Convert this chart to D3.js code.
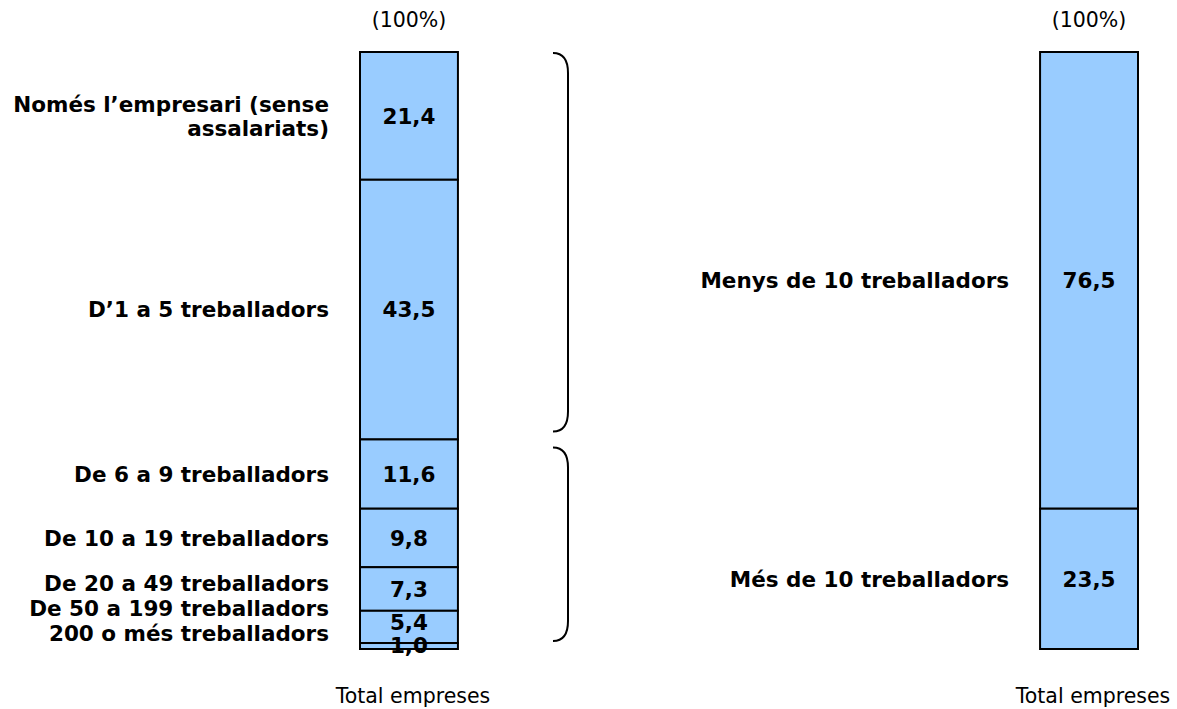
<!DOCTYPE html>
<html>
<head>
<meta charset="utf-8">
<script src="https://cdn.jsdelivr.net/npm/d3@7"></script>
<style>
  body { margin: 0; background: #fff; }
  text { font-family: "DejaVu Sans", Verdana, sans-serif; fill: #000; }
  .lbl, .val { font-weight: bold; font-size: 21.5px; }
  .note { font-size: 20.5px; }
</style>
</head>
<body>
<div id="chart"></div>
<script>
// data
const detailCats = ["Només l\u2019empresari (sense assalariats)", "D\u20191 a 5 treballadors", "De 6 a 9 treballadors",
  "De 10 a 19 treballadors", "De 20 a 49 treballadors", "De 50 a 199 treballadors", "200 o més treballadors"];
const detailVals = [21.4, 43.5, 11.6, 9.8, 7.3, 5.4, 1.0];
const groupCats = ["Menys de 10 treballadors", "Més de 10 treballadors"];
const groupVals = [76.5, 23.5];
const braceGroups = [[0, 1], [2, 6]]; // segment index ranges
const barNames = ["detall", "grup"];
const topLabel = "(100%)";
const bottomLabel = "Total empreses";

const w = 1177, h = 709;

var svg = d3.select("#chart").append("svg")
  .attr("width", w).attr("height", h);

var x = d3.scaleBand().domain(barNames).range([360, 1138]).paddingInner(0.856);
var y = d3.scaleLinear().domain([0, 100]).range([52, 649]);
var fmt = v => d3.format(".1f")(v).replace(".", ",");

function stack(vals) {
  var cum = 0;
  return vals.map(v => { var s = { y0: cum, y1: cum + v, v: v }; cum += v; return s; });
}

// push labels up so they don't overlap, starting from the bottom
function spread(centers, gap, maxY) {
  var out = centers.slice();
  var next = maxY + gap;
  for (var i = out.length - 1; i >= 0; i--) {
    out[i] = Math.min(out[i], next - gap);
    next = out[i];
  }
  return out;
}

function drawBar(name, cats, vals) {
  var segs = stack(vals);
  var bx = x(name), bw = x.bandwidth();
  var g = svg.append("g");

  g.selectAll("rect").data(segs).enter().append("rect")
    .attr("x", bx).attr("y", d => y(d.y0))
    .attr("width", bw).attr("height", d => y(d.y1) - y(d.y0))
    .attr("fill", "#99CCFF").attr("stroke", "#000").attr("stroke-width", 2);

  var centers = segs.map(d => (y(d.y0) + y(d.y1)) / 2);
  var valY = spread(centers, 23, y(100) - 4);
  var lblY = spread(centers, 25, y(100) - 16);

  g.selectAll(".val").data(segs).enter().append("text")
    .attr("class", "val")
    .attr("x", bx + bw / 2).attr("y", (d, i) => valY[i])
    .attr("dy", "0.36em").attr("text-anchor", "middle")
    .text(d => fmt(d.v));

  cats.forEach(function (c, i) {
    var t = g.append("text").attr("class", "lbl")
      .attr("x", bx - 31).attr("text-anchor", "end");
    var lines = c.indexOf("(") > 0 ? [c.slice(0, c.lastIndexOf(" ")), c.slice(c.lastIndexOf(" ") + 1)] : [c];
    var y0 = lblY[i] - (lines.length - 1) * 12;
    lines.forEach(function (l, j) {
      t.append("tspan").attr("x", bx - 31).attr("y", y0 + j * 24).attr("dy", "0.36em").text(l);
    });
  });

  svg.append("text").attr("class", "note")
    .attr("x", bx + bw / 2).attr("y", 27).attr("text-anchor", "middle").text(topLabel);
  svg.append("text").attr("class", "note")
    .attr("x", bx + bw / 2 + 4).attr("y", 703).attr("text-anchor", "middle").text(bottomLabel);
}

drawBar("detall", detailCats, detailVals);
drawBar("grup", groupCats, groupVals);

// brackets at the right of the first bar
var segsD = stack(detailVals);
var bxr = 553, depth = 15, r = 20;
braceGroups.forEach(function (gr, k) {
  var top = y(segsD[gr[0]].y0) + (k == 0 ? 1 : 8);
  var bot = y(segsD[gr[1]].y1) - 8;
  var p = d3.path();
  p.moveTo(bxr, top);
  p.quadraticCurveTo(bxr + depth, top, bxr + depth, top + r);
  p.lineTo(bxr + depth, bot - r);
  p.quadraticCurveTo(bxr + depth, bot, bxr, bot);
  svg.append("path").attr("d", p.toString())
    .attr("fill", "none").attr("stroke", "#000").attr("stroke-width", 2);
});
</script>
</body>
</html>
